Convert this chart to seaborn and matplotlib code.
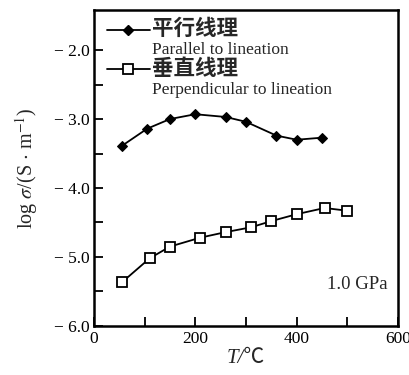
import matplotlib
matplotlib.use("Agg")
import matplotlib.pyplot as plt
from matplotlib.lines import Line2D
from matplotlib.ticker import FixedLocator, FixedFormatter
import seaborn as sns
import pandas as pd

# data
par_T = [55, 105, 150, 200, 260, 300, 360, 400, 450]
par_logsig = [-3.39, -3.14, -3.00, -2.93, -2.97, -3.04, -3.24, -3.30, -3.27]
perp_T = [55, 110, 150, 210, 260, 310, 350, 400, 455, 500]
perp_logsig = [-5.37, -5.02, -4.85, -4.72, -4.64, -4.57, -4.48, -4.38, -4.29, -4.33]

par_cn, par_en = "平行线理", "Parallel to lineation"
perp_cn, perp_en = "垂直线理", "Perpendicular to lineation"
note = "1.0 GPa"

x_ticks = [0, 100, 200, 300, 400, 500, 600]
x_ticklabels = ["0", "", "200", "", "400", "", "600"]
y_ticks = [-6.0, -5.0, -4.0, -3.0, -2.0]
y_ticklabels = ["\u2212 6.0", "\u2212 5.0", "\u2212 4.0", "\u2212 3.0", "\u2212 2.0"]
y_minor = [-5.5, -4.5, -3.5, -2.5]

sns.set_style("ticks")
fam = ["Liberation Serif", "Noto Sans CJK SC", "DejaVu Sans"]
plt.rcParams["font.family"] = fam
plt.rcParams["mathtext.fontset"] = "stix"

fig = plt.figure(figsize=(4.1, 3.75), dpi=100)
ax = fig.add_axes([0.229, 0.131, 0.742, 0.842])

df1 = pd.DataFrame({"T": par_T, "s": par_logsig})
df2 = pd.DataFrame({"T": perp_T, "s": perp_logsig})
sns.lineplot(data=df1, x="T", y="s", ax=ax, color="black", lw=1.3,
             marker="D", markersize=5.5, markerfacecolor="black",
             markeredgecolor="black")
sns.lineplot(data=df2, x="T", y="s", ax=ax, color="black", lw=1.3,
             marker="s", markersize=7, markerfacecolor="white",
             markeredgecolor="black", markeredgewidth=1.3)

ax.set_xlim(0, 600)
ax.set_ylim(-6.0, -1.42)
ax.xaxis.set_major_locator(FixedLocator(x_ticks))
ax.xaxis.set_major_formatter(FixedFormatter(x_ticklabels))
ax.yaxis.set_major_locator(FixedLocator(y_ticks))
ax.yaxis.set_major_formatter(FixedFormatter(y_ticklabels))
ax.yaxis.set_minor_locator(FixedLocator(y_minor))
ax.tick_params(axis="both", which="both", direction="in", length=6.5,
               width=1.3, color="black", labelsize=12.5, labelcolor="black")
ax.tick_params(axis="x", pad=4)
ax.tick_params(axis="y", pad=3)
for s in ax.spines.values():
    s.set_linewidth(1.8)
    s.set_color("black")
    s.set_visible(True)

ax.set_xlabel("T/℃", fontsize=15, labelpad=1, family=fam, style="italic")
ax.set_ylabel(r"log $\sigma$/(S $\cdot$ m$^{-1}$)", fontsize=14.5, labelpad=10)

h1 = Line2D([], [], color="black", lw=1.3, marker="D", markersize=5.5,
            markerfacecolor="black")
h2 = Line2D([], [], color="black", lw=1.3, marker="s", markersize=7,
            markerfacecolor="white", markeredgewidth=1.3)
blank = Line2D([], [], linestyle="none")
leg = ax.legend([h1, blank, h2, blank], [par_cn, par_en, perp_cn, perp_en],
                loc="upper left", bbox_to_anchor=(0.02, 0.99), frameon=False,
                handlelength=2.6, handletextpad=0.1, labelspacing=0.1,
                borderaxespad=0.0, fontsize=12)
for i, t in enumerate(leg.get_texts()):
    if i % 2 == 0:
        t.set_fontsize(15.5)
        t.set_fontweight("bold")
    else:
        t.set_fontsize(12.5)

ax.text(0.965, 0.13, note, transform=ax.transAxes, ha="right", va="center",
        fontsize=13.5)

fig.savefig("out.png", dpi=100)
